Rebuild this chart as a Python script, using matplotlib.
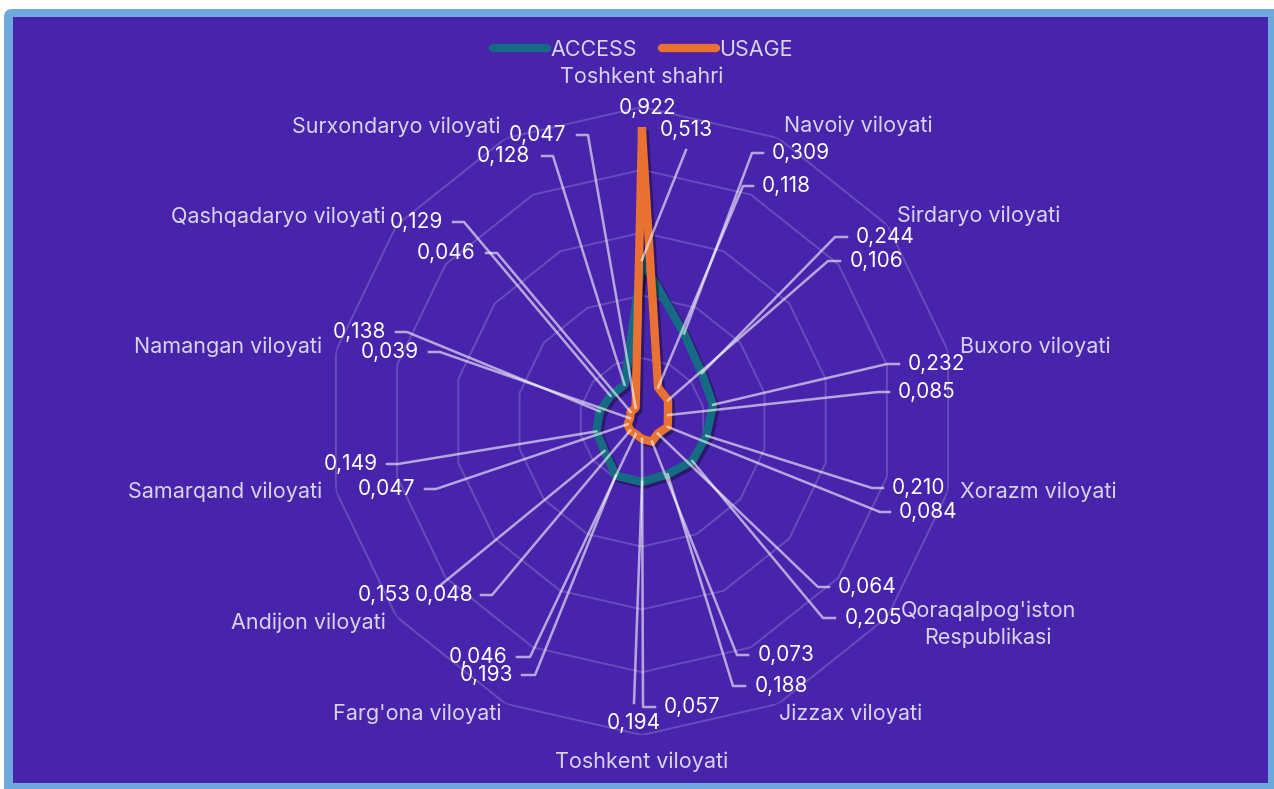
import numpy as np
import matplotlib.pyplot as plt
from matplotlib.patches import FancyBboxPatch, Rectangle
from matplotlib.lines import Line2D
from matplotlib.colors import LinearSegmentedColormap
from matplotlib import patheffects as pe

# data
regions = ["Toshkent shahri", "Navoiy viloyati", "Sirdaryo viloyati", "Buxoro viloyati",
           "Xorazm viloyati", "Qoraqalpog'iston\nRespublikasi", "Jizzax viloyati",
           "Toshkent viloyati", "Farg'ona viloyati", "Andijon viloyati",
           "Samarqand viloyati", "Namangan viloyati", "Qashqadaryo viloyati",
           "Surxondaryo viloyati"]
access = [0.513, 0.309, 0.244, 0.232, 0.210, 0.205, 0.188,
          0.194, 0.193, 0.153, 0.149, 0.138, 0.129, 0.128]
usage = [0.922, 0.118, 0.106, 0.085, 0.084, 0.064, 0.073,
         0.057, 0.046, 0.048, 0.047, 0.039, 0.046, 0.047]
series_names = ["ACCESS", "USAGE"]

# layout (pixels, y from top)
W, H = 1274, 789
cx, cy, R = 642, 421, 314
cat_pos = [(642, 77), (858, 126), (979, 216), (1035, 347), (1038, 492), (988, 624),
           (851, 714), (642, 762), (417, 714), (308, 623), (225, 492), (228, 347),
           (278, 217), (396, 127)]
# value label: x, y, ha, elbow_x, end_x   (elbow_x None -> no leader)
acc_lab = [(686, 130, 'center', 686, 686), (772, 153, 'left', 752, 763),
           (856, 237, 'left', 835, 847), (908, 364, 'left', 887, 899),
           (892, 488, 'left', 872, 883), (845, 618, 'left', 823, 835),
           (755, 686, 'left', 733, 745), (634, 723, 'center', 634, 634),
           (513, 675, 'right', 535, 522), (411, 595, 'right', 437, 437),
           (378, 464, 'right', 398, 387), (386, 332, 'right', 407, 396),
           (443, 222, 'right', 464, 453), (530, 156, 'right', 553, 542)]
use_lab = [(648, 108, 'center', None, None), (762, 186, 'left', 743, 753),
           (850, 261, 'left', 828, 840), (898, 392, 'left', 878, 889),
           (899, 512, 'left', 880, 890), (838, 587, 'left', 818, 829),
           (758, 655, 'left', 737, 748), (664, 707, 'left', 643, 655),
           (508, 657, 'right', 530, 517), (473, 595, 'right', 492, 481),
           (415, 489, 'right', 436, 425), (419, 352, 'right', 440, 429),
           (476, 253, 'right', 497, 486), (566, 135, 'right', 588, 577)]

teal = '#156A84'
orange = '#E97132'
purple = '#4824AC'
cat_color = '#D9D4EC'
font = 'Inter'

fig = plt.figure(figsize=(W / 100, H / 100), dpi=100)
fig.patch.set_facecolor('white')

# background frame
bg = fig.add_axes([0, 0, 1, 1])
bg.axis('off')
bg.add_patch(FancyBboxPatch((4, 9), W + 20, H, boxstyle='round,pad=0,rounding_size=8',
                            fc='#6FA8DC', ec='none'))
bg.add_patch(Rectangle((13, 17), 1255, 766, fc=purple, ec='none'))
cmap = LinearSegmentedColormap.from_list('top', ['#7F56DF', purple])
bg.imshow(np.linspace(0, 1, 50)[:, None], cmap=cmap, aspect='auto',
          extent=(13, 1268, 33, 17))
bg.set_xlim(0, W)
bg.set_ylim(H, 0)

# radar
ax = fig.add_axes([(cx - R) / W, 1 - (cy + R) / H, 2 * R / W, 2 * R / H], projection='polar')
ax.set_theta_offset(np.pi / 2)
ax.set_theta_direction(-1)
ax.set_ylim(0, 1)
ax.axis('off')

n = len(regions)
angles = np.arange(n) * 2 * np.pi / n
closed = np.append(angles, angles[0])
for r in [0.2, 0.4, 0.6, 0.8, 1.0]:
    ax.plot(closed, [r] * (n + 1), color='white', alpha=0.18, lw=1.4, zorder=1)

shadow = [pe.SimpleLineShadow(offset=(2, -2), shadow_color='black', alpha=0.35), pe.Normal()]
ax.plot(closed, access + access[:1], color=teal, lw=6, solid_joinstyle='round',
        path_effects=shadow, zorder=3)
ax.plot(closed, usage + usage[:1], color=orange, lw=6, solid_joinstyle='round',
        path_effects=shadow, zorder=4)

# overlay for labels and leader lines
ov = fig.add_axes([0, 0, 1, 1], zorder=5)
ov.axis('off')
ov.set_xlim(0, W)
ov.set_ylim(H, 0)
to_ov = ov.transData.inverted()

for i, name in enumerate(regions):
    x, y = cat_pos[i]
    ov.text(x, y, name, ha='center', va='center', color=cat_color, fontsize=15.5,
            family=font, linespacing=1.4)

for vals, labs in [(access, acc_lab), (usage, use_lab)]:
    for i, v in enumerate(vals):
        tx, ty, ha, ex, hx = labs[i]
        if ex is not None:
            px, py = to_ov.transform(ax.transData.transform((angles[i], v)))
            if ex == hx:
                # straight leader ending just beside the label
                ey = ty + 20 if ty < py else ty - 20
                if ha == 'right':
                    ey = ty - 7
            else:
                ey = ty
            ov.plot([px, ex, hx], [py, ey, ey], color='white', alpha=0.6, lw=1.8, zorder=1)
        ov.text(tx, ty, f"{v:.3f}".replace('.', ','), ha=ha, va='center',
                color='white', fontsize=15, family=font, zorder=2)

handles = [Line2D([], [], color=teal, lw=6, solid_capstyle='round'),
           Line2D([], [], color=orange, lw=6, solid_capstyle='round')]
fig.legend(handles, series_names, loc='center', bbox_to_anchor=(643 / W, 1 - 50 / H),
           ncol=2, frameon=False, labelcolor=cat_color,
           prop={'family': font, 'size': 15.5}, handlelength=2.5, handletextpad=0.15,
           columnspacing=1.2)

fig.savefig('out.png', dpi=100, facecolor='white')
